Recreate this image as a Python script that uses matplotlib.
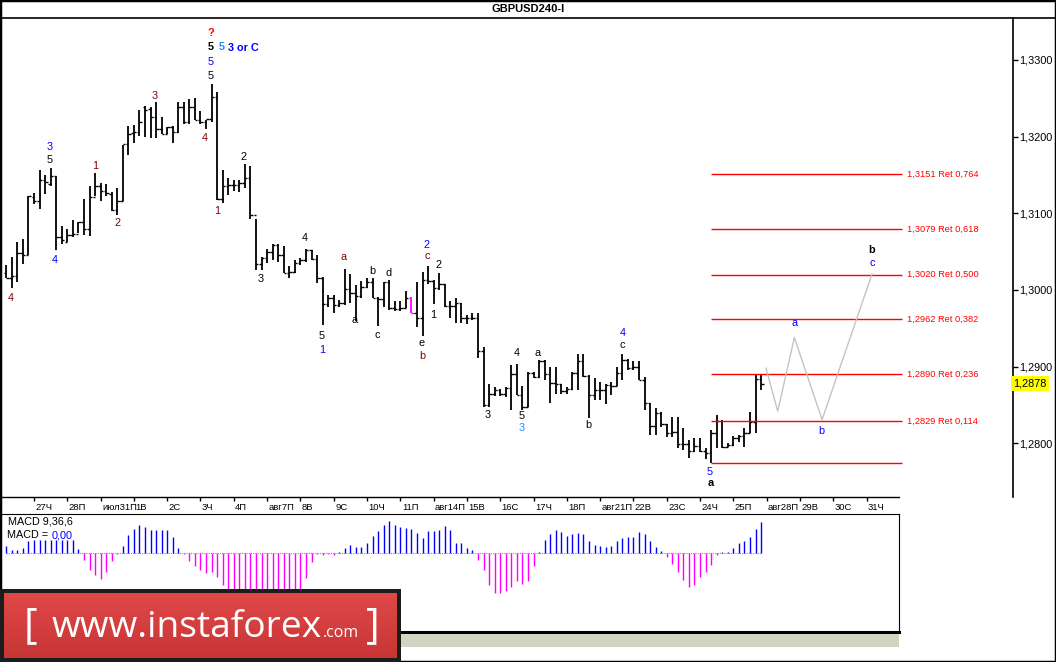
import numpy as np
import matplotlib
matplotlib.use("Agg")
import matplotlib.pyplot as plt
from matplotlib.lines import Line2D
from matplotlib.patches import Rectangle
from matplotlib.colors import LinearSegmentedColormap
from matplotlib import transforms

# ---- GBPUSD H4 bars (26 Jul - 25 Aug 2017) ----
opens = [1.3022, 1.3015, 1.3018, 1.3048, 1.3046, 1.3121, 1.3116, 1.3143, 1.3138, 1.3148,
         1.3069, 1.3063, 1.3072, 1.3073, 1.3089, 1.3080, 1.3121, 1.3135, 1.3129, 1.3125,
         1.3104, 1.3116, 1.3190, 1.3205, 1.3206, 1.3238, 1.3236, 1.3225, 1.3210, 1.3203,
         1.3212, 1.3206, 1.3238, 1.3219, 1.3238, 1.3222, 1.3219, 1.3223, 1.3252, 1.3118,
         1.3135, 1.3137, 1.3137, 1.3139, 1.3146, 1.3098, 1.3034, 1.3042, 1.3049, 1.3059,
         1.3045, 1.3022, 1.3024, 1.3035, 1.3039, 1.3052, 1.3041, 1.3015, 1.2982, 1.2990,
         1.2980, 1.2983, 1.3001, 1.2996, 1.2992, 1.3004, 1.3010, 1.2990, 1.2988, 1.3010,
         1.2977, 1.2975, 1.2977, 1.2989, 1.2970, 1.2964, 1.3013, 1.3012, 1.3002, 1.3008,
         1.2979, 1.2979, 1.2983, 1.2964, 1.2963, 1.2963, 1.2920, 1.2850, 1.2865, 1.2870,
         1.2864, 1.2872, 1.2891, 1.2863, 1.2848, 1.2892, 1.2887, 1.2908, 1.2891, 1.2879,
         1.2877, 1.2868, 1.2871, 1.2892, 1.2907, 1.2888, 1.2863, 1.2870, 1.2869, 1.2876,
         1.2875, 1.2892, 1.2909, 1.2898, 1.2900, 1.2883, 1.2853, 1.2823, 1.2840, 1.2825,
         1.2814, 1.2815, 1.2799, 1.2799, 1.2790, 1.2797, 1.2790, 1.2787, 1.2813, 1.2829,
         1.2795, 1.2798, 1.2807, 1.2809, 1.2813, 1.2828, 1.2884]
highs = [1.3032, 1.3043, 1.3063, 1.3067, 1.3123, 1.3126, 1.3157, 1.3150, 1.3159, 1.3148,
         1.3083, 1.3080, 1.3091, 1.3089, 1.3118, 1.3136, 1.3153, 1.3140, 1.3138, 1.3128,
         1.3133, 1.3189, 1.3214, 1.3215, 1.3235, 1.3240, 1.3238, 1.3245, 1.3225, 1.3213,
         1.3214, 1.3245, 1.3245, 1.3249, 1.3250, 1.3233, 1.3222, 1.3269, 1.3258, 1.3156,
         1.3146, 1.3144, 1.3143, 1.3164, 1.3161, 1.3092, 1.3043, 1.3054, 1.3060, 1.3060,
         1.3057, 1.3031, 1.3039, 1.3042, 1.3053, 1.3052, 1.3046, 1.3017, 1.2994, 1.2994,
         1.2987, 1.3028, 1.3021, 1.3007, 1.3012, 1.3015, 1.3015, 1.2991, 1.3011, 1.3013,
         1.2985, 1.2986, 1.2999, 1.2991, 1.3011, 1.3024, 1.3031, 1.3013, 1.3022, 1.3008,
         1.2985, 1.2990, 1.2983, 1.2967, 1.2970, 1.2970, 1.2926, 1.2878, 1.2874, 1.2871,
         1.2874, 1.2902, 1.2904, 1.2875, 1.2893, 1.2893, 1.2909, 1.2909, 1.2900, 1.2899,
         1.2878, 1.2874, 1.2893, 1.2917, 1.2917, 1.2889, 1.2885, 1.2880, 1.2877, 1.2880,
         1.2900, 1.2917, 1.2910, 1.2907, 1.2907, 1.2887, 1.2853, 1.2846, 1.2841, 1.2825,
         1.2835, 1.2835, 1.2820, 1.2804, 1.2807, 1.2807, 1.2794, 1.2817, 1.2837, 1.2830,
         1.2800, 1.2810, 1.2811, 1.2820, 1.2841, 1.2889, 1.2889]
lows = [1.3015, 1.3002, 1.3011, 1.3034, 1.3045, 1.3112, 1.3106, 1.3125, 1.3135, 1.3052,
        1.3060, 1.3062, 1.3069, 1.3074, 1.3072, 1.3070, 1.3122, 1.3116, 1.3123, 1.3103,
        1.3098, 1.3116, 1.3176, 1.3191, 1.3201, 1.3200, 1.3198, 1.3198, 1.3203, 1.3203,
        1.3192, 1.3205, 1.3217, 1.3217, 1.3222, 1.3217, 1.3210, 1.3219, 1.3117, 1.3113,
        1.3124, 1.3129, 1.3128, 1.3133, 1.3093, 1.3026, 1.3026, 1.3035, 1.3039, 1.3037,
        1.3022, 1.3015, 1.3022, 1.3033, 1.3037, 1.3039, 1.3009, 1.2954, 1.2978, 1.2970,
        1.2978, 1.2980, 1.2983, 1.2960, 1.2989, 1.3002, 1.2989, 1.2953, 1.2978, 1.2974,
        1.2972, 1.2972, 1.2976, 1.2970, 1.2952, 1.2940, 1.3008, 1.2982, 1.3000, 1.2978,
        1.2963, 1.2957, 1.2957, 1.2956, 1.2961, 1.2911, 1.2848, 1.2848, 1.2862, 1.2862,
        1.2861, 1.2844, 1.2863, 1.2844, 1.2848, 1.2885, 1.2885, 1.2883, 1.2853, 1.2865,
        1.2864, 1.2864, 1.2870, 1.2870, 1.2887, 1.2833, 1.2856, 1.2857, 1.2851, 1.2863,
        1.2875, 1.2883, 1.2896, 1.2896, 1.2883, 1.2844, 1.2811, 1.2811, 1.2822, 1.2808,
        1.2808, 1.2794, 1.2791, 1.2781, 1.2789, 1.2789, 1.2779, 1.2774, 1.2794, 1.2794,
        1.2795, 1.2797, 1.2802, 1.2795, 1.2814, 1.2814, 1.2870]
closes = [1.3015, 1.3018, 1.3048, 1.3046, 1.3122, 1.3116, 1.3143, 1.3141, 1.3148, 1.3069,
          1.3065, 1.3072, 1.3073, 1.3089, 1.3080, 1.3121, 1.3135, 1.3129, 1.3126, 1.3104,
          1.3116, 1.3190, 1.3203, 1.3206, 1.3219, 1.3235, 1.3225, 1.3210, 1.3203, 1.3213,
          1.3206, 1.3238, 1.3219, 1.3238, 1.3222, 1.3219, 1.3223, 1.3251, 1.3118, 1.3135,
          1.3137, 1.3137, 1.3139, 1.3146, 1.3098, 1.3034, 1.3042, 1.3049, 1.3059, 1.3045,
          1.3022, 1.3024, 1.3035, 1.3039, 1.3052, 1.3041, 1.3015, 1.2982, 1.2990, 1.2980,
          1.2983, 1.3001, 1.2996, 1.2992, 1.3004, 1.3010, 1.2990, 1.2988, 1.3010, 1.2977,
          1.2975, 1.2977, 1.2989, 1.2970, 1.2964, 1.3013, 1.3012, 1.3002, 1.3008, 1.2979,
          1.2979, 1.2983, 1.2964, 1.2963, 1.2963, 1.2920, 1.2850, 1.2865, 1.2870, 1.2864,
          1.2872, 1.2891, 1.2863, 1.2848, 1.2892, 1.2887, 1.2908, 1.2891, 1.2879, 1.2877,
          1.2868, 1.2871, 1.2892, 1.2907, 1.2888, 1.2863, 1.2870, 1.2869, 1.2876, 1.2875,
          1.2892, 1.2909, 1.2898, 1.2900, 1.2883, 1.2853, 1.2823, 1.2840, 1.2825, 1.2814,
          1.2815, 1.2799, 1.2799, 1.2790, 1.2797, 1.2790, 1.2787, 1.2813, 1.2829, 1.2795,
          1.2798, 1.2807, 1.2809, 1.2813, 1.2828, 1.2884, 1.2878]
odd_bar = 74  # the one bar drawn in magenta

# MACD(9,36,6) histogram, 1e-5 units
macd = [22, 10, 10, 15, 35, 38, 38, 38, 38, 38, 38, 38, 38, 12,
        -22, -52, -65, -77, -58, -25, -2,
        20, 55, 72, 85, 77, 70, 68, 68, 70, 47, 15, -2,
        -25, -40, -50, -60, -58, -72, -95,
        -115, -125, -130, -128, -125, -120, -130, -140, -140, -135, -130, -125, -120, -110,
        -75, -28, -2, -5, -3, -5, 2,
        15, 25, 18, 18, 30, 52, 65, 85, 97, 85, 77, 75, 72, 60, 45, 67, 67, 70, 80, 70, 30, 30, 15, 10,
        -20, -50, -95, -120, -120,
        -115, -103, -85, -92, -83, -40,
        3, 40, 58, 70, 63, 52, 58, 60, 58, 37, 25, 22, 18, 22, 37, 45, 48, 48, 63, 58, 37, 18, 7,
        -13, -33, -58, -80, -103, -97, -73, -58, -37, -7,
        2, 3, 15, 30, 37, 48, 72, 93]

# day separators (6 four-hour bars per day)
day_labels = ["27Ч", "28П", "июл31П", "1В", "2С", "3Ч", "4П", "авг7П", "8В", "9С",
              "10Ч", "11П", "авг14П", "15В", "16С", "17Ч", "18П", "авг21П", "22В", "23С",
              "24Ч", "25П", "авг28П", "29В", "30С", "31Ч"]
bars_per_day = 6

price_ticks = [1.28, 1.29, 1.30, 1.31, 1.32, 1.33]
price_labels = ["1,2800", "1,2900", "1,3000", "1,3100", "1,3200", "1,3300"]

# Fibonacci retracement grid
fib_levels = [1.3151, 1.3079, 1.3020, 1.2962, 1.2890, 1.2829]
fib_ratios = ["0,764", "0,618", "0,500", "0,382", "0,236", "0,114"]
fib_base = 1.2774
fib_span = (128, 162.4)

# projected a-b-c path
proj_bar = [137.9, 140.0, 143.0, 148.0, 157.0]
proj_price = [1.2898, 1.2842, 1.2938, 1.2831, 1.3021]

BLK, MAR, BLU, DOD, RED = "#000000", "#800000", "#0000ff", "#1e90ff", "#ff0000"
wave_labels = [
    (1.9, 1.2990, "4", MAR, False), (8.9, 1.3186, "3", BLU, False),
    (8.9, 1.3169, "5", BLK, False), (9.8, 1.3039, "4", BLU, False),
    (17.0, 1.3162, "1", MAR, False), (21.0, 1.3087, "2", MAR, False),
    (27.8, 1.3253, "3", MAR, False), (36.8, 1.3198, "4", MAR, False),
    (37.9, 1.3335, "?", RED, True), (37.9, 1.3317, "5", BLK, True),
    (39.9, 1.3317, "5", DOD, True), (37.9, 1.3297, "5", BLU, False),
    (37.9, 1.3279, "5", BLK, False), (43.8, 1.3173, "2", BLK, False),
    (39.0, 1.3103, "1", MAR, False), (46.9, 1.3014, "3", BLK, False),
    (54.8, 1.3068, "4", BLK, False), (61.8, 1.3043, "a", MAR, False),
    (66.9, 1.3025, "b", BLK, False), (69.8, 1.3022, "d", BLK, False),
    (63.8, 1.2961, "a", BLK, False), (67.8, 1.2941, "c", BLK, False),
    (57.9, 1.2940, "5", BLK, False), (57.9, 1.2922, "1", BLU, False),
    (76.8, 1.3059, "2", BLU, False), (76.8, 1.3044, "c", MAR, False),
    (78.8, 1.3033, "2", BLK, False), (77.9, 1.2967, "1", BLK, False),
    (75.9, 1.2931, "e", BLK, False), (75.9, 1.2914, "b", MAR, False),
    (92.9, 1.2918, "4", BLK, False), (96.8, 1.2918, "a", BLK, False),
    (87.8, 1.2837, "3", BLK, False), (93.9, 1.2836, "5", BLK, False),
    (93.9, 1.2820, "3", DOD, False), (105.8, 1.2824, "b", BLK, False),
    (112.0, 1.2944, "4", BLU, False), (112.0, 1.2928, "c", BLK, False),
    (127.8, 1.2763, "5", BLU, False), (128.0, 1.2748, "a", BLK, True),
    (143.1, 1.2957, "a", BLU, False), (147.8, 1.2816, "b", BLU, False),
    (157.0, 1.3035, "c", BLU, False), (157.0, 1.3052, "b", BLK, True),
]

# ---- layout helpers (pixel geometry of the terminal window) ----
W, H = 1056, 662
BAR_PX, BAR0_PX = 5.55, 0.7


def box(x0, y0, x1, y1):
    return [x0 / W, 1 - y1 / H, (x1 - x0) / W, (y1 - y0) / H]


def px2bar(px):
    return (px - BAR0_PX) / BAR_PX


FONT = "Liberation Sans"
plt.rcParams["font.family"] = [FONT, "DejaVu Sans"]

fig = plt.figure(figsize=(W / 100, H / 100), dpi=100)
fig.patch.set_facecolor("white")

# ---- price panel ----
ax = fig.add_axes(box(0, 18, 1013, 497))
ax.set_xlim(px2bar(0), px2bar(1013))
ax.set_ylim(1.27301, 1.33546)
for s in ("top", "left", "bottom"):
    ax.spines[s].set_visible(False)
ax.spines["right"].set_linewidth(1.2)

idx = np.arange(1, len(closes) + 1)
cols = ["#ff00ff" if i == odd_bar else "black" for i in idx]
ax.vlines(idx, lows, highs, colors=cols, lw=1.3)
ax.hlines(opens, idx - 0.45, idx, colors=cols, lw=1.0)
ax.hlines(closes, idx, idx + 0.45, colors=cols, lw=1.0)

ax.hlines(fib_levels + [fib_base], fib_span[0], fib_span[1], colors=RED, lw=1.0)
for lvl, r in zip(fib_levels, fib_ratios):
    ax.text(fib_span[1] + 0.9, lvl, f"{lvl:.4f}".replace(".", ",") + " Ret " + r,
            color=RED, fontsize=6.7, va="center", ha="left")

ax.plot(proj_bar, proj_price, color="#c4c4c4", lw=1.0)

for bx, py, t, c, b in wave_labels:
    ax.text(bx, py, t, color=c, fontsize=7.8, ha="center", va="center",
            fontweight="bold" if b else "normal")
ax.text(40.9, 1.3316, "3 or C", color=BLU, fontsize=7.8, fontweight="bold",
        ha="left", va="center")

ax.yaxis.tick_right()
ax.set_yticks(price_ticks)
ax.set_yticklabels(price_labels)
ax.tick_params(axis="y", length=3.5, width=1, pad=1, labelsize=7.8)

day_ticks = [bars_per_day * (k + 1) for k in range(len(day_labels))]
ax.set_xticks(day_ticks)
ax.set_xticklabels(day_labels, ha="left")
ax.tick_params(axis="x", length=3, width=1, pad=1, labelsize=6.8)
shift = transforms.ScaledTranslation(1.5 / 100, 0, fig.dpi_scale_trans)
for lb in ax.get_xticklabels():
    lb.set_transform(lb.get_transform() + shift)

blend = transforms.blended_transform_factory(ax.transAxes, ax.transData)
ax.text(1.0, closes[-1], f"{closes[-1]:.4f}".replace(".", ","), transform=blend,
        fontsize=7.8, ha="left", va="center", zorder=10, clip_on=False,
        bbox=dict(boxstyle="square,pad=0.22", fc="yellow", ec="none"))

# ---- MACD panel ----
mx = fig.add_axes(box(0, 514, 899, 632))
mx.set_xlim(px2bar(0), px2bar(899))
mx.set_ylim(-237, 117)
mx.set_xticks([])
mx.set_yticks([])
mx.spines["left"].set_visible(False)
mx.spines["bottom"].set_linewidth(2.2)
mcols = ["#0000ff" if v > 0 else "#ff00ff" for v in macd]
mx.plot([1, len(macd)], [0, 0], color="#909090", lw=0.8, ls=(0, (1, 1)))
mx.vlines(idx, 0, macd, colors=mcols, lw=1.0)

fig.text(8 / W, 1 - 522 / H, "MACD 9,36,6", fontsize=7.8, va="center")
fig.text(7 / W, 1 - 535 / H, "MACD =", fontsize=7.8, va="center")
fig.text(52 / W, 1 - 535 / H, "0,00", fontsize=7.8, va="center", color=BLU)

# ---- window chrome ----
fig.add_artist(Line2D([0, 1], [1 - 18 / H] * 2, color="black", lw=1.2))
fig.add_artist(Line2D([0, 899 / W], [1 - 497 / H] * 2, color="black", lw=1.0))
fig.add_artist(Rectangle((0, 1 - 647 / H), 899 / W, 13 / H, transform=fig.transFigure,
                         fc="#d3d3c2", ec="none"))
fig.add_artist(Rectangle((0, 0), 1, 1, transform=fig.transFigure, fill=False,
                         ec="black", lw=2.5))
fig.text(528 / W, 1 - 9 / H, "GBPUSD240-I", fontsize=8, fontweight="bold",
         ha="center", va="center")

# ---- logo ----
la = fig.add_axes(box(0, 589, 401, 662), zorder=20)
la.axis("off")
la.add_patch(Rectangle((0, 589), 401, 73, fc="#1c1c1c", ec="none", zorder=1))
grad = np.linspace(0, 1, 64).reshape(-1, 1)
la.imshow(grad, extent=(4, 397, 658, 593), aspect="auto", zorder=2,
          cmap=LinearSegmentedColormap.from_list("r", ["#e04848", "#c73535"]))
la.set_xlim(0, 401)
la.set_ylim(662, 589)

LOGO = ["Open Sans", "DejaVu Sans"]
pieces = [("[", 24, 7, 30), ("www.instaforex", 52, 270, 28), (".com", 323, 36, 21), ("]", 366, 7, 30)]
fig.canvas.draw()
r = fig.canvas.get_renderer()
for txt, x0, wd, fs in pieces:
    t = la.text(x0, 637, txt, color="white", fontsize=fs, family=LOGO, va="baseline",
                ha="left", zorder=3)
    if len(txt) > 1:
        w = t.get_window_extent(renderer=r).width
        t.set_fontsize(fs * wd / w)

fig.savefig("out.png", dpi=100)
